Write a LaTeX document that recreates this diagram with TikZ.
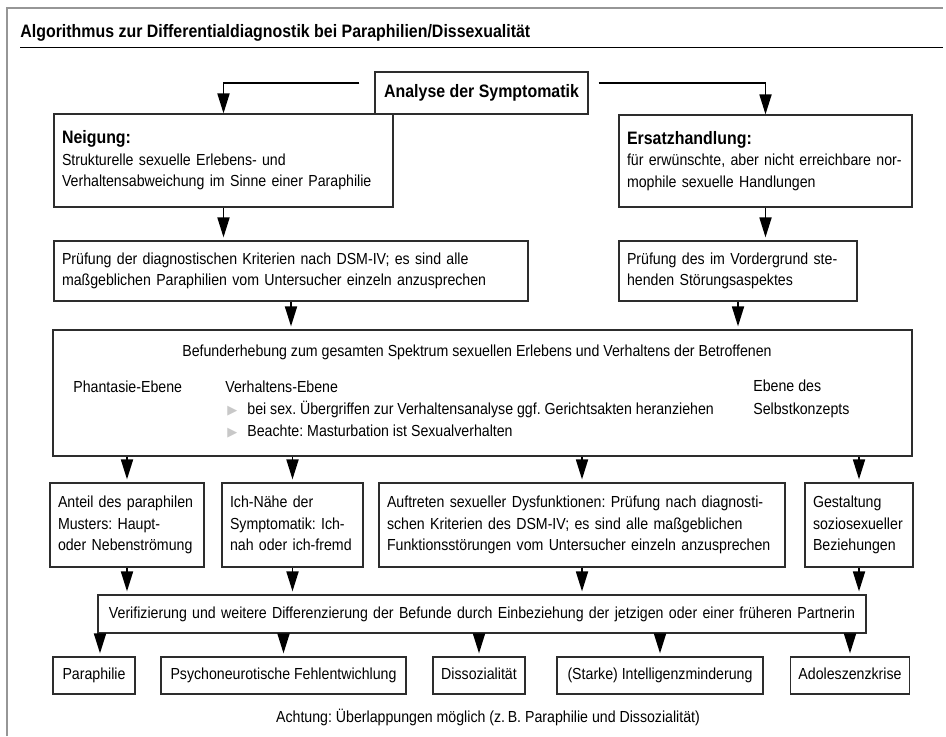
\documentclass[tikz,border=0pt]{standalone}
\usepackage{fontspec}
\setmainfont[FakeStretch=0.885]{Liberation Sans}
\newfontfamily\symbfont{DejaVu Sans}
\usepackage{tikz}
\usetikzlibrary{arrows.meta}
\definecolor{framegray}{RGB}{150,150,150}
\definecolor{bulletgray}{RGB}{200,200,200}
\definecolor{boxline}{RGB}{45,45,45}
\newcommand{\bodyfont}{\fontsize{8pt}{10.75pt}\selectfont\frenchspacing}
\newcommand{\headfont}{\fontsize{9pt}{10.75pt}\selectfont\bfseries}
\newcommand{\bulletmark}{\makebox[10pt][l]{\textcolor{bulletgray}{\symbfont\fontsize{6.5pt}{6.5pt}\selectfont ▶}}}
\tikzset{
  fbox/.style={draw=boxline,line width=0.6pt,inner sep=0pt,inner xsep=4pt,
               font=\bodyfont},
  onebox/.style={fbox,minimum height=18.5pt,text height=6.2pt,text depth=1.8pt},
  ltext/.style={font=\bodyfont,inner sep=0pt,anchor=base west},
  flow/.style={-{Triangle[length=10pt,width=6pt]},line width=0.9pt,
               shorten >=1.5pt}}

\begin{document}
\begin{tikzpicture}[x=0.5pt,y=-0.5pt]
\useasboundingbox (0,0) rectangle (946,736);

\draw[framegray,line width=1pt] (7,736) -- (7,7.5) -- (943,7.5);
\node[anchor=base west,inner sep=0pt,font=\headfont] (titel) at (20,37)
  {Algorithmus zur Differentialdiagnostik bei Paraphilien/Dissexualität};
\draw[line width=0.6pt] (20,47.5) -- (943,47.5);

\node[fbox,minimum width=106.5pt,minimum height=21pt] (ana) at (481.5,93)
  {\headfont Analyse der Symptomatik};
\node[fbox,minimum width=169.5pt,minimum height=46.5pt,text width=161.5pt,
      align=left] (neig) at (223.5,160.5)
  {{\headfont Neigung:}\\ Strukturelle sexuelle Erlebens- und\\
   Verhaltensabweichung im Sinne einer Paraphilie};
\node[fbox,minimum width=146.5pt,minimum height=46pt,text width=138.5pt,
      align=left] (ersatz) at (765.5,161)
  {{\headfont Ersatzhandlung:}\\ für erwünschte, aber nicht erreichbare nor-\\
   mophile sexuelle Handlungen};
\node[fbox,minimum width=237pt,minimum height=30pt,text width=229pt,
      align=left] (pruefl) at (291,271)
  {\makebox[229pt][s]{Prüfung der diagnostischen Kriterien nach DSM-IV; es sind alle}\\
   maßgeblichen Paraphilien vom Untersucher einzeln anzusprechen};
\node[fbox,minimum width=119pt,minimum height=30pt,text width=111pt,
      align=left] (pruefr) at (738,271)
  {Prüfung des im Vordergrund ste-\\ henden Störungsaspektes};

\node[fbox,minimum width=429.5pt,minimum height=63pt] (befund) at (482.5,393) {};
\node[ltext,anchor=base] (befkopf) at (477,356.5)
  {Befunderhebung zum gesamten Spektrum sexuellen Erlebens und Verhaltens der Betroffenen};
\node[ltext] (phant) at (73,392.5) {Phantasie-Ebene};
\node[ltext] (verh) at (225,392.5) {Verhaltens-Ebene};
\node[ltext] (punkt1) at (227,414.5)
  {\bulletmark bei sex. Übergriffen zur Verhaltensanalyse ggf. Gerichtsakten heranziehen};
\node[ltext] (punkt2) at (227,436.5)
  {\bulletmark Beachte: Masturbation ist Sexualverhalten};
\node[ltext] (selbst1) at (753,391.5) {Ebene des};
\node[ltext] (selbst2) at (753,414) {Selbstkonzepts};

\node[fbox,minimum width=77pt,minimum height=42pt,text width=69pt,
      align=left] (anteil) at (127,525)
  {\strut Anteil des paraphilen\\ Musters: Haupt-\\ oder Nebenströmung\strut};
\node[fbox,minimum width=70.5pt,minimum height=42pt,text width=62.5pt,
      align=left] (ichnah) at (292.5,525)
  {\strut Ich-Nähe der\\ Symptomatik: Ich-\\ nah oder ich-fremd\strut};
\node[fbox,minimum width=203pt,minimum height=42pt,text width=195pt,
      align=left] (dysf) at (582,525)
  {\strut Auftreten sexueller Dysfunktionen: Prüfung nach diagnosti-\\
   schen Kriterien des DSM-IV; es sind alle maßgeblichen\\
   Funktionsstörungen vom Untersucher einzeln anzusprechen\strut};
\node[fbox,minimum width=54pt,minimum height=42pt,text width=46pt,
      align=left] (sozio) at (859,525)
  {\strut Gestaltung\\ soziosexueller\\ Beziehungen\strut};

\node[fbox,minimum width=384pt,minimum height=19pt,text width=376pt,
      align=center] (verif) at (482,614)
  {Verifizierung und weitere Differenzierung der Befunde durch Einbeziehung der jetzigen oder einer früheren Partnerin};

\node[onebox,minimum width=41pt] (para) at (94,675.5) {Paraphilie};
\node[onebox,minimum width=122.5pt] (psych) at (283.5,675.5)
  {Psychoneurotische Fehlentwichlung};
\node[onebox,minimum width=46pt] (dissoz) at (479,675.5) {Dissozialität};
\node[onebox,minimum width=103pt] (intel) at (660,675.5)
  {(Starke) Intelligenzminderung};
\node[onebox,minimum width=57pt] (adol) at (850,675.5) {Adoleszenzkrise};

\node[ltext,anchor=base] (achtung) at (488,722.5)
  {Achtung: Überlappungen möglich (z.\,B. Paraphilie und Dissozialität)};

\draw[flow,shorten >=0pt] ([xshift=-7.5pt,yshift=5pt]ana.west) -| (neig.north);
\draw[flow,shorten >=0pt] ([xshift=5pt,yshift=5pt]ana.east) -| (ersatz.north);
\draw[flow] (neig.south) -- (neig.south |- pruefl.north);
\draw[flow] (ersatz.south) -- (ersatz.south |- pruefr.north);
\draw[flow] (pruefl.south) -- (pruefl.south |- befund.north);
\draw[flow] (pruefr.south) -- (pruefr.south |- befund.north);
\foreach \b in {anteil,ichnah,dysf,sozio}{%
  \draw[flow] (\b.north |- befund.south) -- (\b.north);
  \draw[flow] (\b.south) -- (\b.south |- verif.north);
}
\draw[flow] ([xshift=3pt]para.north |- verif.south) -- ([xshift=3pt]para.north);
\foreach \b in {psych,dissoz,intel,adol}{%
  \draw[flow] (\b.north |- verif.south) -- (\b.north);
}
\end{tikzpicture}
\end{document}
